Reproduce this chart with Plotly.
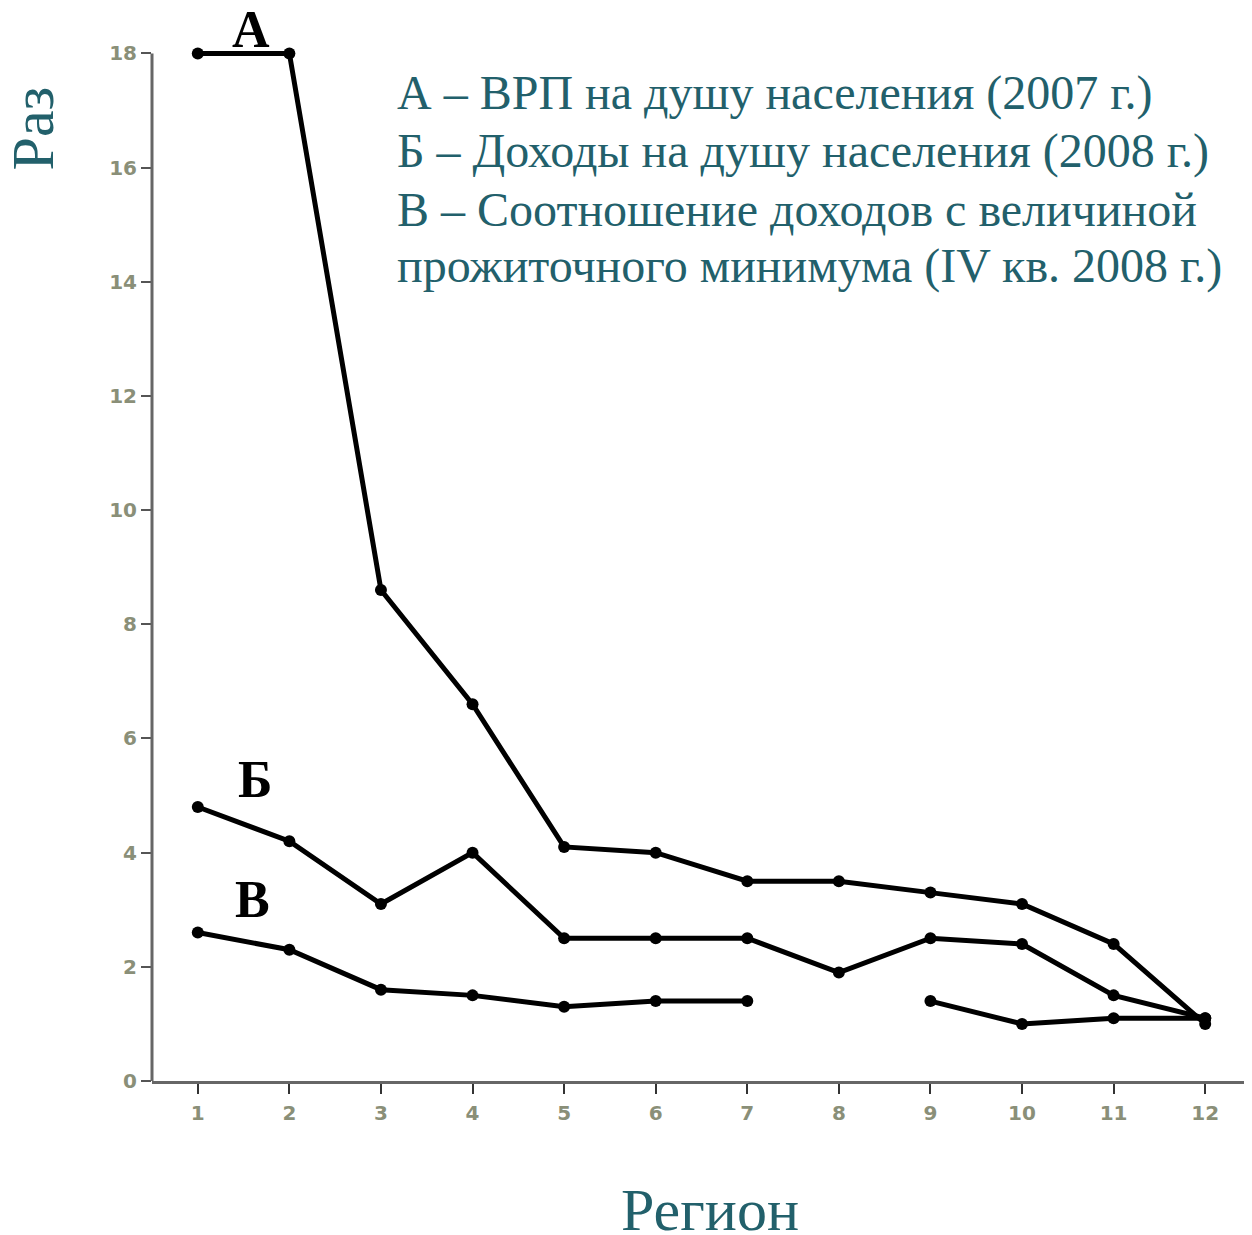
import plotly.graph_objects as go

regions = [1, 2, 3, 4, 5, 6, 7, 8, 9, 10, 11, 12]
series_a = [18, 18, 8.6, 6.6, 4.1, 4.0, 3.5, 3.5, 3.3, 3.1, 2.4, 1.0]
series_b = [4.8, 4.2, 3.1, 4.0, 2.5, 2.5, 2.5, 1.9, 2.5, 2.4, 1.5, 1.1]
series_v = [2.6, 2.3, 1.6, 1.5, 1.3, 1.4, 1.4, None, 1.4, 1.0, 1.1, 1.1]
y_ticks = [0, 2, 4, 6, 8, 10, 12, 14, 16, 18]
series_labels = ["А", "Б", "В"]
legend_lines = [
    "А – ВРП на душу населения (2007 г.)",
    "Б – Доходы на душу населения (2008 г.)",
    "В – Соотношение доходов с величиной",
    "прожиточного минимума (IV кв. 2008 г.)",
]

teal = "#22606b"
tickc = "#8a8f78"
axc = "#666666"
serif = "Liberation Serif, Times New Roman, serif"

Y_MAX = 18
Y_TOP = 18.2  # a little head-room so the top line is not clipped

# plot area in page pixels (page has an 8px body margin)
PX0, PX1, PY0, PY1 = 152, 1251, 53, 1081
unit = (PY1 - PY0) / Y_MAX
extra = (Y_TOP - Y_MAX) * unit
top_px = PY0 - extra


def px(x):
    return (x - PX0) / (PX1 - PX0)


def py(y):
    return (PY1 - y) / (PY1 - top_px)


fig = go.Figure()
for ys in (series_a, series_b, series_v):
    fig.add_trace(go.Scatter(
        x=regions, y=ys, mode="lines+markers",
        line=dict(color="black", width=5),
        marker=dict(color="black", size=12),
        connectgaps=False, cliponaxis=False, showlegend=False,
    ))

for txt, (x, y) in zip(series_labels, ((251, 29), (255, 779), (252, 899))):
    fig.add_annotation(xref="paper", yref="paper", x=px(x), y=py(y),
                       text="<b>%s</b>" % txt, showarrow=False,
                       font=dict(family=serif, size=52, color="black"),
                       xanchor="center", yanchor="middle")

for line, base in zip(legend_lines, (109, 167, 225, 282)):
    fig.add_annotation(xref="paper", yref="paper", x=px(395), y=py(base - 16),
                       text=line, showarrow=False, align="left",
                       xanchor="left", yanchor="middle",
                       font=dict(family=serif, size=48, color=teal))

fig.add_annotation(xref="paper", yref="paper", x=px(33), y=py(128),
                   text="Раз", textangle=-90, showarrow=False,
                   xanchor="center", yanchor="middle",
                   font=dict(family=serif, size=60, color=teal))
fig.add_annotation(xref="paper", yref="paper", x=px(710), y=py(1210),
                   text="Регион", showarrow=False,
                   xanchor="center", yanchor="middle",
                   font=dict(family=serif, size=60, color=teal))

# y axis line ending exactly at the top tick
fig.add_shape(type="line", xref="paper", yref="y", x0=0, x1=0, y0=0, y1=Y_MAX,
              line=dict(color=axc, width=3))

fig.update_xaxes(range=[0.5, 12.5], tickmode="array", tickvals=regions,
                 ticktext=[str(r) for r in regions],
                 showline=True, linecolor=axc, linewidth=3,
                 ticks="outside", ticklen=10, tickwidth=2, tickcolor="#333333",
                 tickson="boundaries", showgrid=False, zeroline=False,
                 ticklabelstandoff=2,
                 tickfont=dict(family="DejaVu Sans", size=20, color=tickc, weight="bold"))
fig.update_yaxes(range=[0, Y_TOP], tickmode="array", tickvals=y_ticks,
                 showline=False,
                 ticks="outside", ticklen=10, tickwidth=2, tickcolor="#555555",
                 showgrid=False, zeroline=False,
                 tickfont=dict(family="DejaVu Sans", size=20, color=tickc, weight="bold"))

fig.update_layout(width=1244, height=1227, plot_bgcolor="white", paper_bgcolor="white",
                  margin=dict(l=144, r=1, t=45 - extra, b=154))
fig.write_html("out.html")
